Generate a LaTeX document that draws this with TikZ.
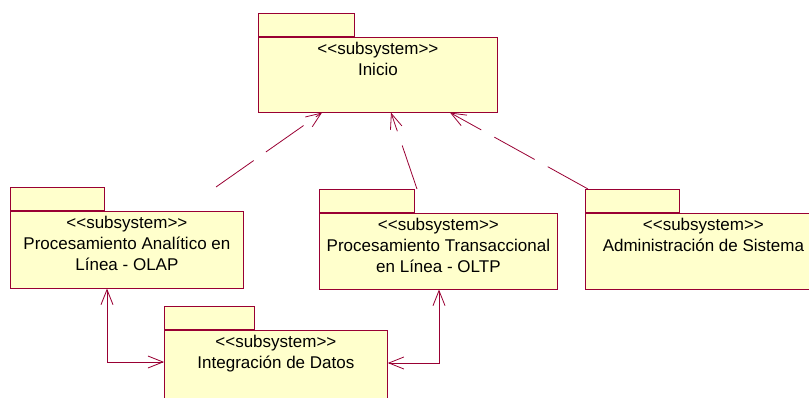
\documentclass[tikz,border=0pt]{standalone}
\usepackage{fontspec}
\setmainfont{Liberation Sans}
\usetikzlibrary{arrows.meta,calc,positioning}
\definecolor{pkgline}{RGB}{153,0,51}
\definecolor{pkgfill}{RGB}{255,255,204}
\tikzset{
 pkg/.style={draw=pkgline, fill=pkgfill, line width=0.8pt, anchor=north west, inner sep=0pt},
 pkgtext/.style={anchor=north, align=center, inner sep=0pt, font=\fontsize{17}{21}\selectfont},
 dep/.style={draw=pkgline, line width=0.8pt, dash pattern=on 46pt off 15pt, -{Straight Barb[length=15pt,width=12pt]}},
 link/.style={draw=pkgline, line width=0.8pt, {Straight Barb[length=15pt,width=12pt]}-{Straight Barb[length=15pt,width=12pt]}},
}
\newcommand{\stereo}{<{}<subsystem>{}>}
% name, x, tab top, tab width, width, height, text
\newcommand{\pkgbox}[7]{
 \node[pkg, minimum width=#4, minimum height=23] (#1tab) at (#2,#3) {};
 \node[pkg, minimum width=#5, minimum height=#6] (#1) at (#1tab.south west) {};
 \node[pkgtext] (#1txt) at ($(#1.north)+(0,5.5)$) {\stereo\\#7};
}

\begin{document}
\begin{tikzpicture}[x=1pt,y=-1pt]
\useasboundingbox (0,0) rectangle (809,398);
\clip (0,0) rectangle (809,398);

\pkgbox{inicio}{258}{13}{96}{239}{75}{Inicio}
\pkgbox{olap}{10}{187}{94}{233}{77}{Procesamiento Analítico en\\Línea - OLAP}
\pkgbox{oltp}{319}{189}{95}{238}{76}{Procesamiento Transaccional\\en Línea - OLTP}
\pkgbox{admin}{585}{189}{94}{236}{76}{Administración de Sistema}
\pkgbox{integ}{164}{306}{90}{223}{80}{Integración de Datos}

\draw[dep] (216,0 |- olaptab.north) -- (322,0 |- inicio.south);
\draw[dep] (417,0 |- oltptab.north) -- (391,0 |- inicio.south);
\draw[dep] (588,0 |- admintab.north) -- (450,0 |- inicio.south);

\draw[link] (107,0 |- olap.south) |- (integ.west |- 0,362);
\draw[link] (439,0 |- oltp.south) |- (integ.east |- 0,363);
\end{tikzpicture}
\end{document}
